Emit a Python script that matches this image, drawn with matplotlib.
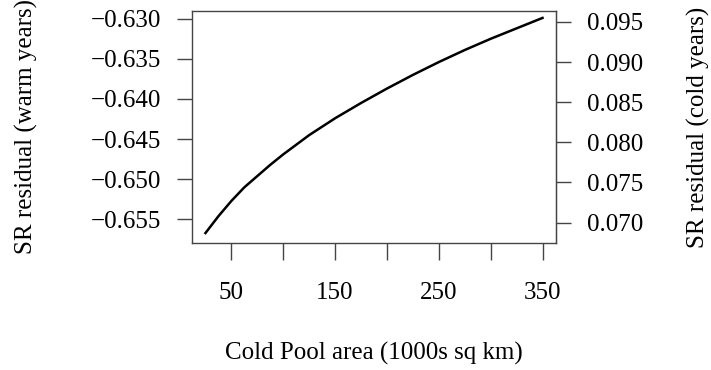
import numpy as np
import matplotlib
matplotlib.use('Agg')
from matplotlib import pyplot as plt

# curve (left axis = warm years)
area = [25, 37.5, 50, 62.5, 75, 87.5, 100, 125, 150, 175, 200, 225, 250,
        275, 300, 325, 350]
sr_warm = [-0.6567, -0.6546, -0.6527, -0.6510, -0.6496, -0.6482, -0.6469,
           -0.6445, -0.6424, -0.6405, -0.6387, -0.6370, -0.6354, -0.6339,
           -0.6325, -0.6312, -0.6299]
# right axis is the same curve shifted onto the cold-years scale
cold_offset = 0.7254

x_ticks = [50, 100, 150, 200, 250, 300, 350]
x_labels = ['50', '', '150', '', '250', '', '350']
warm_ticks = [-0.655, -0.650, -0.645, -0.640, -0.635, -0.630]
cold_ticks = [0.070, 0.075, 0.080, 0.085, 0.090, 0.095]


def fmt(v):
    return ('%.3f' % v).replace('-', '\u2212')


plt.rcParams['font.family'] = ['Liberation Serif', 'DejaVu Serif']
plt.rcParams['font.size'] = 18
edge = '#444444'

fig = plt.figure(figsize=(7.11, 3.70), dpi=100)
ax = fig.add_axes([0.270, 0.343, 0.512, 0.627])
ax.plot(area, sr_warm, color='black', lw=1.8)

ax.set_xlim(12, 363)
ax.set_ylim(-0.65795, -0.62905)
ax.set_xticks(x_ticks)
ax.set_xticklabels(x_labels)
ax.set_yticks(warm_ticks)
ax.set_yticklabels([fmt(v) for v in warm_ticks])
for s in ax.spines.values():
    s.set_color(edge)
    s.set_linewidth(1.0)
ax.tick_params(axis='x', length=12, width=1, color=edge, pad=16)
ax.tick_params(axis='y', length=11, width=1, color=edge, pad=11)

ax2 = ax.secondary_yaxis('right', functions=(lambda y: y + cold_offset,
                                             lambda y: y - cold_offset))
ax2.set_yticks(cold_ticks)
ax2.set_yticklabels([fmt(v) for v in cold_ticks])
ax2.spines['right'].set_color(edge)
ax2.tick_params(axis='y', length=11, width=1, color=edge, pad=11)

fig.text(0.526, 0.046, 'Cold Pool area (1000s sq km)', ha='center', va='center')
fig.text(0.037, 0.657, 'SR residual (warm years)', rotation=90,
         ha='center', va='center')
fig.text(0.982, 0.657, 'SR residual (cold years)', rotation=90,
         ha='center', va='center')

fig.savefig('out.png', dpi=100)
